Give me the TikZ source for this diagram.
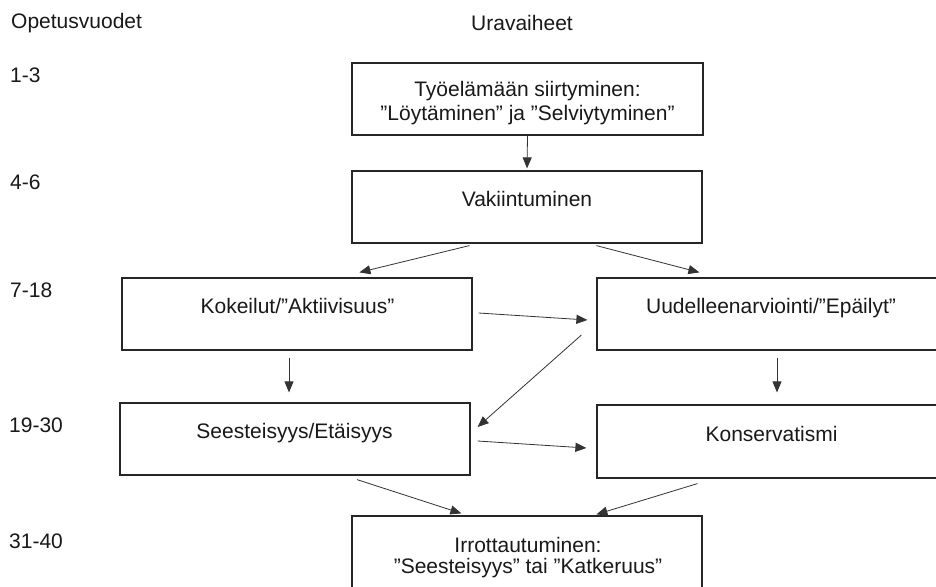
\documentclass[tikz,border=0pt]{standalone}
\usepackage{fontspec}
\setmainfont{Liberation Sans}
\usetikzlibrary{arrows.meta,calc}
\begin{document}
\begin{tikzpicture}[x=1pt,y=-1pt,
  box/.style={draw=black!85, line width=1.2pt, rectangle, inner sep=0pt},
  txt/.style={font=\fontsize{21}{25}\selectfont, text=black!90, inner sep=0pt, anchor=base},
  lbl/.style={font=\fontsize{21}{25}\selectfont, text=black!90, inner sep=0pt, anchor=base west},
  arr/.style={draw=black!80, line width=0.8pt, -{Triangle[length=11pt,width=9pt]}}]
\useasboundingbox[fill=white] (0,0) rectangle (936,586);

% column headers and years
\node[lbl] (hOpe) at (11,29) {Opetusvuodet};
\node[txt] (hUra) at (522,31) {Uravaiheet};
\node[lbl] (y1) at (10,82) {1-3};
\node[lbl] (y2) at (10,189) {4-6};
\node[lbl] (y3) at (10,297) {7-18};
\node[lbl] (y4) at (9,432) {19-30};
\node[lbl] (y5) at (9,548) {31-40};

% boxes
\node[box, minimum width=351pt, minimum height=72pt] (top) at (527.5,99) {};
\node[box, minimum width=350pt, minimum height=72pt] (vak) at (527,207) {};
\node[box, minimum width=350pt, minimum height=72pt] (kok) at (297,314) {};
\node[box, minimum width=349pt, minimum height=72pt] (uud) at (771.5,314) {};
\node[box, minimum width=350pt, minimum height=72pt] (see) at (295,439) {};
\node[box, minimum width=349pt, minimum height=73pt] (kon) at (771.5,441.5) {};
\node[box, minimum width=350pt, minimum height=74pt] (irr) at (527,553) {};

% box texts (base = baseline of the last line)
\node[txt, align=center] (topT) at (527.5,120) {Työelämään siirtyminen:\\[-1pt]”Löytäminen” ja ”Selviytyminen”};
\node[txt] (vakT) at (527,206) {Vakiintuminen};
\node[txt] (kokT) at (297.5,313) {Kokeilut/”Aktiivisuus”};
\node[txt] (uudT) at (771,313) {Uudelleenarviointi/”Epäilyt”};
\node[txt] (seeT) at (294.5,438) {Seesteisyys/Etäisyys};
\node[txt] (konT) at (771.5,441) {Konservatismi};
\node[txt, align=center] (irrT) at (528,573) {Irrottautuminen:\\[-4pt]”Seesteisyys” tai ”Katkeruus”};

% connectors
\draw[arr, shorten >=2pt] (top.south) -- (vak.north);
\draw[arr] ($(vak.south west)+(118,2)$) -- ($(kok.north west)+(238,-5)$);
\draw[arr] ($(vak.south west)+(245,2)$) -- ($(uud.north west)+(103,-5)$);
\draw[arr] ($(kok.east)+(6,-1)$) -- ($(uud.west)+(-9,6)$);
\draw[arr] ($(kok.south)+(-8,7)$) -- ($(see.north)+(-6,-10)$);
\draw[arr] ($(uud.west)+(-15,21)$) -- ($(see.east)+(7,-12)$);
\draw[arr] ($(uud.south)+(5.5,7)$) -- ($(kon.north)+(5.5,-12)$);
\draw[arr] ($(see.east)+(7,2)$) -- ($(kon.west)+(-10,6.5)$);
\draw[arr] ($(see.south)+(62,4)$) -- ($(irr.north west)+(110,-2)$);
\draw[arr] ($(kon.south west)+(101,5)$) -- ($(irr.north west)+(245,-1)$);
\end{tikzpicture}
\end{document}
